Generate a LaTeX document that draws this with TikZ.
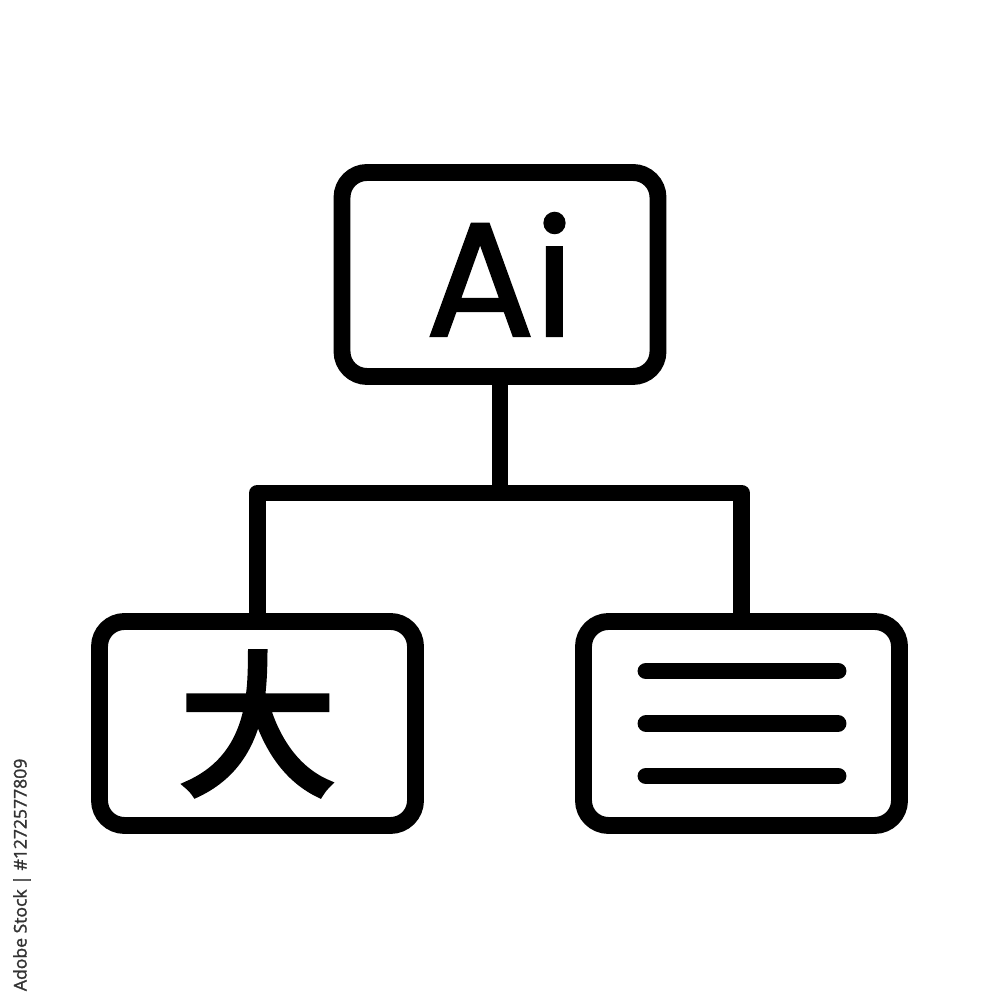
\documentclass[tikz,border=0pt]{standalone}
\usepackage{fontspec}
\newfontfamily\aifont[FakeBold=1.5]{Poppins}
\newfontfamily\cjk[FakeBold=4.5]{Noto Sans CJK SC}
\newfontfamily\idfont[FakeBold=1.5]{Open Sans}

\begin{document}
\begin{tikzpicture}[
    box/.style={draw, line width=4.8pt, rounded corners=0.25cm, minimum width=3.16cm, minimum height=2.04cm, inner sep=0pt, outer sep=0pt},
    wire/.style={line width=4.8pt, line join=round},
    bar/.style={line width=4.8pt, line cap=round}
]
    \useasboundingbox (0,0) rectangle (10,10);
    \node[box, font=\aifont\fontsize{46}{46}\selectfont] (ai) at (5,7.255) {Ai};
    \node[box, font=\cjk\fontsize{44}{44}\selectfont] (zh) at (2.575,2.765) {大};
    \node[box] (doc) at (7.415,2.765) {};
    \coordinate (hub) at (5,5.07);
    \draw[wire] (ai.south) -- (hub);
    \draw[wire] (zh.north) |- (hub) -| (doc.north);
    \foreach \dy in {0.525,0,-0.525}
        \draw[bar] ([shift={(-0.955,\dy)}]doc.center) -- ++(1.92,0);
    \node[rotate=90, anchor=east, text=black!80, font=\idfont\fontsize{5}{5}\selectfont, inner sep=0pt] (stockid) at (0.22,2.42) {Adobe Stock | \#1272577809};
\end{tikzpicture}
\end{document}
